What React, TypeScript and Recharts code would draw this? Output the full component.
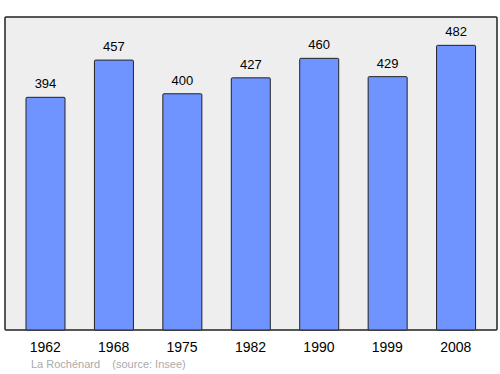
import { BarChart, Bar, XAxis, YAxis, LabelList, usePlotArea } from "recharts";

const years = ["1962", "1968", "1975", "1982", "1990", "1999", "2008"];
const population = [394, 457, 400, 427, 460, 429, 482];

const data = years.map((y, i) => ({ year: y, pop: population[i] }));

function Frame() {
  const area = usePlotArea();
  if (!area) return null;
  return (
    <rect
      x={area.x}
      y={area.y}
      width={area.width}
      height={area.height}
      fill="#eeeeee"
      stroke="#222222"
      strokeWidth={1.5}
      rx={1}
    />
  );
}

export default function App() {
  return (
    <div style={{ position: "absolute", left: 0, top: 0, width: 500, height: 374, background: "#fff" }}>
      <BarChart
        width={500}
        height={374}
        data={data}
        margin={{ top: 17, right: 3, left: 5, bottom: 0 }}
        style={{ fontFamily: "'Liberation Sans', Arial, sans-serif" }}
      >
        <Frame />
        <XAxis
          dataKey="year"
          height={44}
          axisLine={false}
          tickLine={false}
          padding={{ left: 6, right: 7 }}
          tick={{ fontSize: 14, fill: "#000" }}
          dy={4}
          interval={0}
        />
        <YAxis hide domain={[0, 530]} />
        <Bar dataKey="pop" fill="#7094ff" stroke="#222" strokeWidth={1} barSize={39} isAnimationActive={false} radius={1}>
          <LabelList dataKey="pop" position="top" offset={9} style={{ fontSize: 13, fill: "#000" }} />
        </Bar>
      </BarChart>
      <div
        style={{
          position: "absolute",
          left: 31,
          top: 358,
          fontSize: 11,
          color: "#aaaaaa",
          fontFamily: "'Liberation Sans', Arial, sans-serif",
          whiteSpace: "pre",
        }}
      >
        {"La Rochénard    (source: Insee)"}
      </div>
    </div>
  );
}
